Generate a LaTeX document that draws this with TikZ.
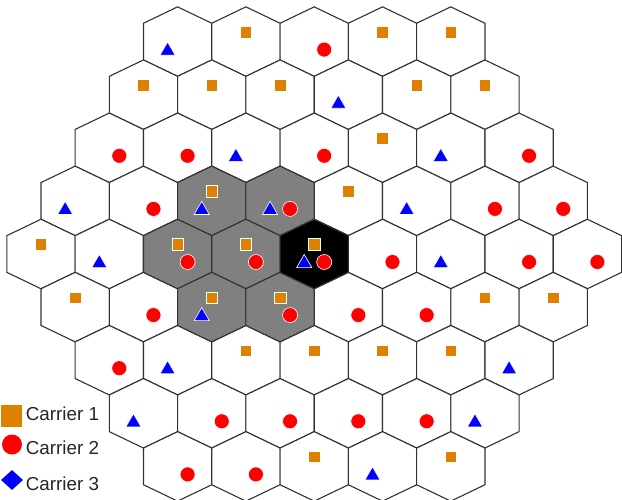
\documentclass[tikz,border=0pt]{standalone}
\usepackage{fontspec}
\setmainfont{Liberation Sans}
\usetikzlibrary{shapes.geometric}
\definecolor{carrierorange}{RGB}{224,128,0}
\definecolor{gridline}{RGB}{51,51,51}

\tikzset{
  hexcell/.pic={\path[pic actions] (-34.15,-18.35) -- (0,-34.75) -- (34.15,-18.35) -- (34.15,18.35) -- (0,34.75) -- (-34.15,18.35) -- cycle;}
}

\begin{document}
\begin{tikzpicture}[
    x=1pt, y=-1pt,
    cell/.style={draw=gridline, line width=1.1pt, fill=white},
    cochannel/.style={cell, fill=black!50},
    serving/.style={cell, fill=black},
    car_one/.style={rectangle, fill=carrierorange, draw=white, line width=0.6pt, minimum size=11.5pt, inner sep=0pt},
    car_two/.style={circle, fill=red, draw=white, line width=0.6pt, minimum size=15pt, inner sep=0pt},
    car_three/.style={regular polygon, regular polygon sides=3, fill=blue, draw=white, line width=0.6pt, minimum size=17.5pt, inner sep=0pt},
    key_text/.style={anchor=base west, inner sep=0pt, text=black!85, font=\fontsize{18.8pt}{22pt}\selectfont}
  ]
  \useasboundingbox (0,0) rectangle (622,500);

  % cell centres, 9 rows
  \foreach \i in {1,...,9} {
    \pgfmathtruncatemacro{\n}{9-abs(\i-5)}
    \foreach \j in {1,...,\n} {
      \coordinate (c\i-\j) at ({314.2+68.3*(\j-(\n+1)/2)}, {254+53.1*(\i-5)});
      \pic[cell] at (c\i-\j) {hexcell};
    }
  }

  % co-channel cells and the serving cell
  \foreach \c in {4-3,4-4,5-3,5-4,6-3,6-4}
    \pic[cochannel] at (c\c) {hexcell};
  \pic[serving] at (c5-5) {hexcell};

  % Carrier 1
  \foreach \c in {1-2,1-4,1-5,2-1,2-2,2-3,2-5,2-6,3-5,4-3,4-5,5-1,5-3,5-4,5-5,6-1,6-3,6-4,6-7,6-8,7-3,7-4,7-5,7-6,9-3,9-5}
    \node[car_one] (sq\c) at ([shift={(0,-9.5)}]c\c) {};
  % Carrier 2
  \foreach \c in {1-3,3-1,3-2,3-4,3-7,4-2,4-4,4-7,4-8,5-3,5-4,5-5,5-6,5-8,5-9,6-2,6-4,6-5,6-6,7-1,8-2,8-3,8-4,8-5,9-1,9-2}
    \node[car_two] (ci\c) at ([shift={(10,8)}]c\c) {};
  % Carrier 3
  \foreach \c in {1-1,2-4,3-3,3-6,4-1,4-3,4-4,4-6,5-2,5-5,5-7,6-3,7-2,7-7,8-1,8-6,9-4}
    \node[car_three] (tr\c) at ([shift={(-10,9.2)}]c\c) {};

  % legend
  \node[car_one, draw=none, minimum width=21pt, minimum height=22pt] (key1) at (11.5,416) {};
  \node[car_two, draw=none, minimum size=20pt] (key2) at (12,444.5) {};
  \node[diamond, aspect=1.1, fill=blue, minimum width=22pt, minimum height=20pt, inner sep=0pt] (key3) at (12,480) {};
  \node[key_text] (key1 label) at (25.7,420) {Carrier 1};
  \node[key_text] (key2 label) at (25.7,454) {Carrier 2};
  \node[key_text] (key3 label) at (25.7,490) {Carrier 3};
\end{tikzpicture}
\end{document}
